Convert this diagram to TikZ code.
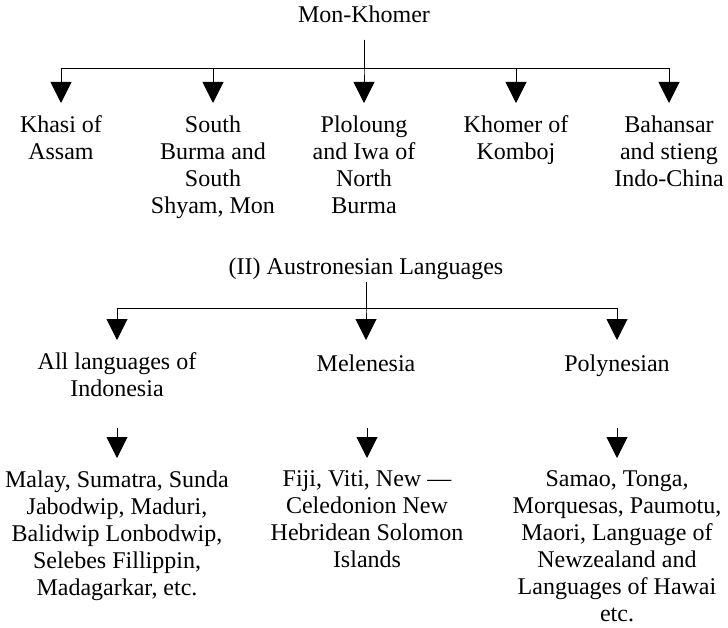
\documentclass[tikz,border=0pt]{standalone}
\usepackage{fontspec}
\setmainfont{Liberation Serif}
\usetikzlibrary{arrows.meta}

\begin{document}
\begin{tikzpicture}[x=1pt, y=-1pt, line width=1pt,
    every node/.style = {align=center, inner sep=0pt,
      font=\fontsize{24}{27}\selectfont},
    head/.style = {anchor=base},
    lang/.style = {anchor=north, inner ysep=12.5pt, execute at begin node=\strut},
    branch/.style = {-{Triangle[width=21pt,length=21pt]}}]
  \useasboundingbox (0,0) rectangle (728,628);
  % Mon-Khomer
  \node[head] (monkhomer) at (364,23) {Mon-Khomer};
  \node[lang] (khasi)      at (61,103)  {Khasi of\\Assam};
  \node[lang] (southburma) at (213,103) {South\\Burma and\\South\\Shyam, Mon};
  \node[lang] (ploloung)   at (364,103) {Ploloung\\and Iwa of\\North\\Burma};
  \node[lang] (khomer)     at (516,103) {Khomer of\\Komboj};
  \node[lang] (bahansar)   at (669,103) {Bahansar\\and stieng\\Indo-China};
  \foreach \n in {khasi,southburma,ploloung,khomer,bahansar}
    \draw[branch] (monkhomer.base) ++(0,17) -- ++(0,29) -| (\n.north);
  % (II) Austronesian
  \node[head] (austro) at (366,275) {(II) Austronesian Languages};
  \node[lang] (indonesia)  at (117,340) {All languages of\\Indonesia};
  \node[lang] (melenesia)  at (366,340) {Melenesia};
  \node[lang] (polynesian) at (617,340) {Polynesian};
  \foreach \n in {indonesia,melenesia,polynesian}
    \draw[branch] (austro.base) ++(0,7) -- ++(0,26) -| (\n.north);
  \node[lang] (malay) at (117,458) {Malay, Sumatra, Sunda\\Jabodwip, Maduri,\\Balidwip Lonbodwip,\\Selebes Fillippin,\\Madagarkar, etc.};
  \node[lang] (fiji)  at (367,458) {Fiji, Viti, New —\\Celedonion New\\Hebridean Solomon\\Islands};
  \node[lang] (samao) at (617,458) {Samao, Tonga,\\Morquesas, Paumotu,\\Maori, Language of\\Newzealand and\\Languages of Hawai\\etc.};
  \foreach \n in {malay,fiji,samao}
    \draw[branch] ([yshift=30pt]\n.north) -- (\n.north);
\end{tikzpicture}
\end{document}
